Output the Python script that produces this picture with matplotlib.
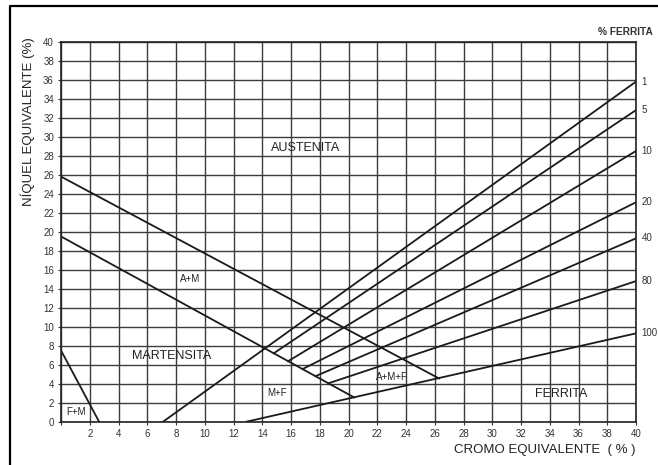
import numpy as np
import matplotlib
matplotlib.use("Agg")
import matplotlib.pyplot as plt
from matplotlib.lines import Line2D

plt.rcParams['font.family'] = ['Liberation Sans', 'DejaVu Sans']

# ferrite lines (Cr eq start, Ni eq start, Ni eq at Cr eq = 40)
ferrita_labels = ['1', '5', '10', '20', '40', '80', '100']
ferrita_cr_start = [7.1, 14.8, 15.8, 16.8, 17.7, 18.6, 12.9]
ferrita_ni_start = [0.0, 7.2, 6.37, 5.54, 4.79, 4.04, 0.0]
ferrita_ni_end = [35.8, 32.8, 28.5, 23.1, 19.3, 14.8, 9.3]
cr_end = 40

# boundary lines
am_cr = [0, 26.3]
am_ni = [25.8, 4.55]
mart_cr = [0, 20.4]
mart_ni = [19.5, 2.55]
fm_cr = [0, 2.65]
fm_ni = [7.5, 0]

# region names: (text, Cr, Ni, size)
regioes = [
    ('AUSTENITA', 17.0, 28.8, 9),
    ('A+M', 9.0, 15.0, 7),
    ('MARTENSITA', 7.7, 6.9, 9),
    ('M+F', 15.0, 3.0, 7),
    ('A+M+F', 23.0, 4.75, 7),
    ('FERRITA', 34.8, 2.9, 9),
    ('F+M', 1.05, 1.05, 7),
]

fig = plt.figure(figsize=(6.58, 4.65), dpi=100)
ax = fig.add_axes([61 / 658, 1 - 421.7 / 465, 575 / 658, 380 / 465])

ax.set_xlim(0, 40)
ax.set_ylim(0, 40)
ax.set_xticks(range(0, 41, 2))
ax.set_yticks(range(0, 41, 2))
ax.set_xticklabels([''] + [str(v) for v in range(2, 41, 2)])
ax.grid(True, color='#3c3c3c', lw=1.0)
ax.set_axisbelow(True)
ax.tick_params(length=2, width=0.8, labelsize=7, colors='#333333', pad=3)
for s in ax.spines.values():
    s.set_linewidth(1.2)
    s.set_color('#222222')

lc = '#1a1a1a'
ax.plot(am_cr, am_ni, color=lc, lw=1.3)
ax.plot(mart_cr, mart_ni, color=lc, lw=1.3)
ax.plot(fm_cr, fm_ni, color=lc, lw=1.3)
for lab, x0, y0, y1 in zip(ferrita_labels, ferrita_cr_start, ferrita_ni_start, ferrita_ni_end):
    ax.plot([x0, cr_end], [y0, y1], color=lc, lw=1.3)
    ax.text(40.4, y1, lab, fontsize=7, ha='left', va='center', color='#333333', clip_on=False)

for txt, x, y, fs in regioes:
    ax.text(x, y, txt, fontsize=fs, ha='center', va='center', color='#222222')

ax.text(37.35, 41.0, '% FERRITA', fontsize=7.3, fontweight='bold', ha='left', va='center',
        color='#333333', clip_on=False)

fig.text(28 / 658, 1 - 122 / 465, 'NÍQUEL EQUIVALENTE (%)', rotation=90, fontsize=9.5,
         ha='center', va='center', color='#222222')
fig.text(636 / 658, 1 - 450 / 465, 'CROMO EQUIVALENTE  ( % )', fontsize=9.5,
         ha='right', va='center', color='#222222')

# outer frame of the scanned figure
fig.add_artist(Line2D([10 / 658, 10 / 658, 1.0], [0, 1 - 6 / 465, 1 - 6 / 465],
                      transform=fig.transFigure, color='black', lw=1.6))

fig.savefig('out.png', dpi=100)
